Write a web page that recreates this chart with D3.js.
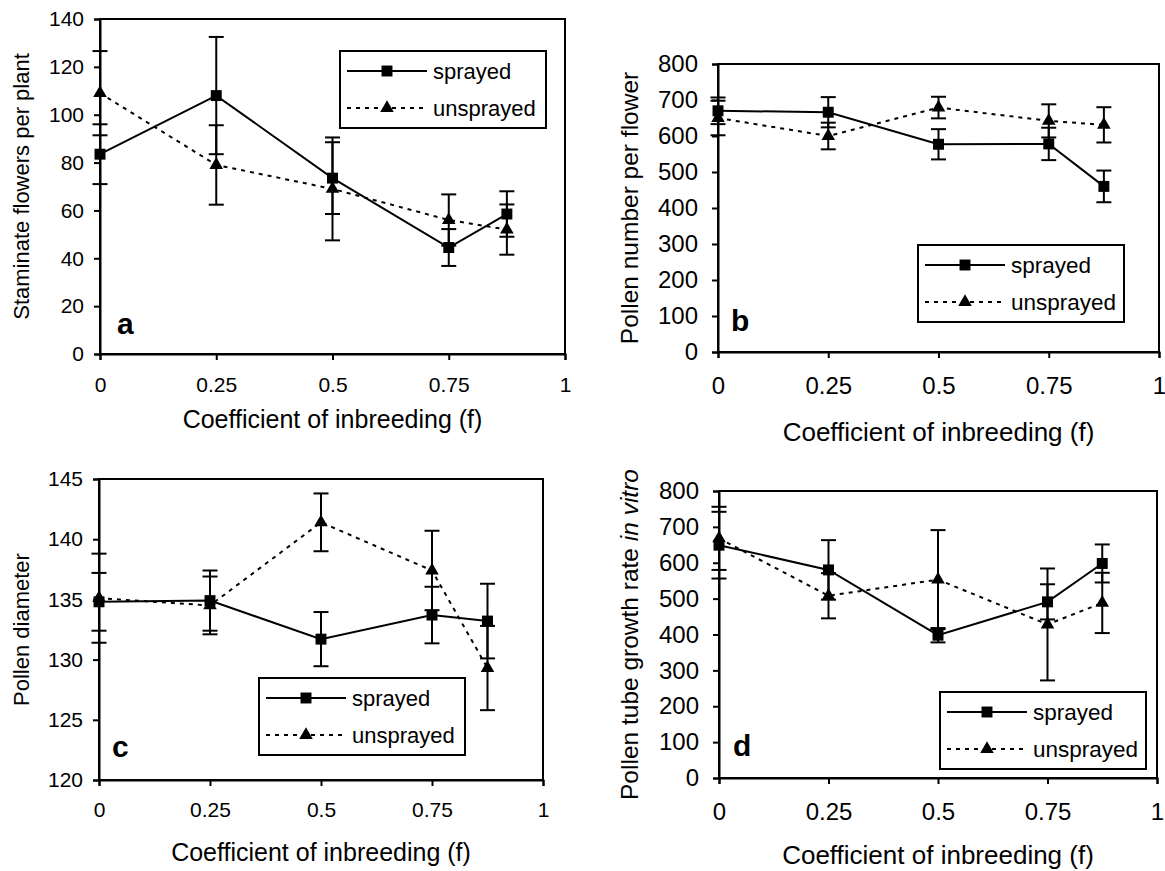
<!DOCTYPE html>
<html>
<head>
<meta charset="utf-8">
<script src="https://cdn.jsdelivr.net/npm/d3@7"></script>
<style>
  body { margin: 0; background: #fff; }
  svg { font-family: "Liberation Sans", Arial, sans-serif; }
</style>
</head>
<body>
<div id="chart"></div>
<script>
// x values shared by all four panels
var inbreeding = [0, 0.25, 0.5, 0.75, 0.875];
var xTicks = [0, 0.25, 0.5, 0.75, 1];

// a: staminate flowers per plant
var flowersSprayed = [83.5, 108, 73.5, 44.5, 58.5];
var flowersSprayedErr = [12.5, 24.5, 15, 7.7, 9.5];
var flowersUnsprayed = [109, 79, 69, 56, 52];
var flowersUnsprayedErr = [17.6, 16.6, 21.5, 10.7, 10.5];
var flowerTicks = [0, 20, 40, 60, 80, 100, 120, 140];

// b: pollen number per flower
var pollenSprayed = [670, 666, 577, 578, 460];
var pollenSprayedErr = [37, 42, 42, 45, 44];
var pollenUnsprayed = [650, 600, 679, 642, 631];
var pollenUnsprayedErr = [48, 37, 30, 46, 49];
var pollenTicks = [0, 100, 200, 300, 400, 500, 600, 700, 800];

// c: pollen diameter
var diameterSprayed = [134.8, 134.9, 131.7, 133.7, 133.2];
var diameterSprayedErr = [2.4, 2.5, 2.25, 2.35, 3.1];
var diameterUnsprayed = [135.1, 134.5, 141.4, 137.4, 129.3];
var diameterUnsprayedErr = [3.7, 2.4, 2.4, 3.3, 3.5];
var diameterTicks = [120, 125, 130, 135, 140, 145];

// d: pollen tube growth rate in vitro
var tubeSprayed = [649, 580, 398, 491, 598];
var tubeSprayedErr = [93, 83, 20, 49, 53];
var tubeUnsprayed = [668, 508, 553, 428, 488];
var tubeUnsprayedErr = [88, 63, 138, 156, 84];
var tubeTicks = [0, 100, 200, 300, 400, 500, 600, 700, 800];

var seriesNames = ["sprayed", "unsprayed"];

var svg = d3.select("#chart").append("svg")
    .attr("width", 1165)
    .attr("height", 871);

// panel layout (pixel boxes of each plot area)
var panels = [
  {letter: "a", left: 100, right: 565, top: 19, bottom: 354,
   yDomain: [0, 140], yTicks: flowerTicks,
   s: flowersSprayed, sErr: flowersSprayedErr, u: flowersUnsprayed, uErr: flowersUnsprayedErr,
   yTitle: ["Staminate flowers per plant"], yTitleX: 21,
   tickFont: 21, legFont: 22, titleFont: 25, yTitleFont: 22, xPad: 17, yPad: 10, xTitleY: 428,
   legX: 340, legY: 51, letX: 117, letY: 334},
  {letter: "b", left: 718, right: 1159, top: 64, bottom: 352,
   yDomain: [0, 800], yTicks: pollenTicks,
   s: pollenSprayed, sErr: pollenSprayedErr, u: pollenUnsprayed, uErr: pollenUnsprayedErr,
   yTitle: ["Pollen number per flower"], yTitleX: 629,
   tickFont: 24, legFont: 22.5, titleFont: 26, yTitleFont: 24.5, xPad: 19, yPad: 14, xTitleY: 441,
   legX: 918, legY: 245, letX: 731, letY: 331},
  {letter: "c", left: 99, right: 543, top: 479, bottom: 780,
   yDomain: [120, 145], yTicks: diameterTicks,
   s: diameterSprayed, sErr: diameterSprayedErr, u: diameterUnsprayed, uErr: diameterUnsprayedErr,
   yTitle: ["Pollen diameter"], yTitleX: 21,
   tickFont: 21, legFont: 22, titleFont: 25, yTitleFont: 22, xPad: 16, yPad: 10, xTitleY: 861,
   legX: 259, legY: 678, letX: 112, letY: 757},
  {letter: "d", left: 719, right: 1157, top: 491, bottom: 778,
   yDomain: [0, 800], yTicks: tubeTicks,
   s: tubeSprayed, sErr: tubeSprayedErr, u: tubeUnsprayed, uErr: tubeUnsprayedErr,
   yTitle: ["Pollen tube growth rate ", "in vitro"], yTitleX: 629,
   tickFont: 24, legFont: 22.5, titleFont: 26, yTitleFont: 24.5, xPad: 19, yPad: 14, xTitleY: 864,
   legX: 940, legY: 692, letX: 733, letY: 756}
];

var square = d3.symbol().type(d3.symbolSquare).size(120);
var triangle = d3.symbol().type(d3.symbolTriangle).size(80);

panels.forEach(function(p) {
  var g = svg.append("g");

  var x = d3.scaleLinear().domain([0, 1]).range([p.left, p.right]);
  var y = d3.scaleLinear().domain(p.yDomain).range([p.bottom, p.top]);

  // plot frame
  g.append("rect")
    .attr("x", p.left).attr("y", p.top)
    .attr("width", p.right - p.left).attr("height", p.bottom - p.top)
    .attr("fill", "none").attr("stroke", "#000").attr("stroke-width", 2);

  // axes
  var xAxis = g.append("g")
    .attr("transform", "translate(0," + p.bottom + ")")
    .call(d3.axisBottom(x).tickValues(xTicks).tickSize(6).tickPadding(p.xPad)
      .tickFormat(function(d) { return String(d); }));
  var yAxis = g.append("g")
    .attr("transform", "translate(" + p.left + ",0)")
    .call(d3.axisLeft(y).tickValues(p.yTicks).tickSize(6).tickPadding(p.yPad)
      .tickFormat(d3.format("d")));

  [xAxis, yAxis].forEach(function(ax) {
    ax.select(".domain").attr("stroke-width", 2);
    ax.selectAll(".tick line").attr("stroke-width", 2);
    ax.selectAll("text")
      .attr("font-family", "Liberation Sans, Arial, sans-serif")
      .attr("font-size", p.tickFont)
      .attr("fill", "#000");
  });

  // axis titles
  g.append("text")
    .attr("x", (p.left + p.right) / 2).attr("y", p.xTitleY)
    .attr("text-anchor", "middle")
    .attr("font-size", p.titleFont)
    .text("Coefficient of inbreeding (f)");

  var yt = g.append("text")
    .attr("transform", "translate(" + p.yTitleX + "," + ((p.top + p.bottom) / 2) + ") rotate(-90)")
    .attr("text-anchor", "middle")
    .attr("dy", "0.35em")
    .attr("font-size", p.yTitleFont);
  p.yTitle.forEach(function(t, i) {
    yt.append("tspan").attr("font-style", i === 1 ? "italic" : "normal").text(t);
  });

  // lines
  var line = d3.line()
    .x(function(d, i) { return x(inbreeding[i]); })
    .y(function(d) { return y(d); });

  g.append("path").datum(p.u)
    .attr("d", line).attr("fill", "none")
    .attr("stroke", "#000").attr("stroke-width", 2)
    .attr("stroke-dasharray", "4,5");
  g.append("path").datum(p.s)
    .attr("d", line).attr("fill", "none")
    .attr("stroke", "#000").attr("stroke-width", 2);

  // error bars
  function errorBars(vals, errs) {
    var eb = g.append("g").attr("stroke", "#000").attr("stroke-width", 2);
    vals.forEach(function(v, i) {
      var cx = x(inbreeding[i]);
      eb.append("line")
        .attr("x1", cx).attr("x2", cx)
        .attr("y1", y(v - errs[i])).attr("y2", y(v + errs[i]));
      [v - errs[i], v + errs[i]].forEach(function(e) {
        eb.append("line")
          .attr("x1", cx - 7.5).attr("x2", cx + 7.5)
          .attr("y1", y(e)).attr("y2", y(e));
      });
    });
  }
  errorBars(p.u, p.uErr);
  errorBars(p.s, p.sErr);

  // markers
  g.selectAll(".tri").data(p.u).enter().append("path")
    .attr("d", triangle)
    .attr("transform", function(d, i) { return "translate(" + x(inbreeding[i]) + "," + y(d) + ")"; })
    .attr("fill", "#000");
  g.selectAll(".sq").data(p.s).enter().append("path")
    .attr("d", square)
    .attr("transform", function(d, i) { return "translate(" + x(inbreeding[i]) + "," + y(d) + ")"; })
    .attr("fill", "#000");

  // legend
  var leg = g.append("g").attr("transform", "translate(" + p.legX + "," + p.legY + ")");
  leg.append("rect")
    .attr("width", 206).attr("height", 77)
    .attr("fill", "#fff").attr("stroke", "#000").attr("stroke-width", 2);
  seriesNames.forEach(function(name, i) {
    var ry = i === 0 ? 20 : 57;
    leg.append("line")
      .attr("x1", 7).attr("x2", 87).attr("y1", ry).attr("y2", ry)
      .attr("stroke", "#000").attr("stroke-width", 2)
      .attr("stroke-dasharray", i === 0 ? null : "4,5");
    leg.append("path")
      .attr("d", i === 0 ? square : triangle)
      .attr("transform", "translate(47," + ry + ")")
      .attr("fill", "#000");
    leg.append("text")
      .attr("x", 93).attr("y", ry).attr("dy", "0.35em")
      .attr("font-size", p.legFont)
      .text(name);
  });

  // panel letter
  g.append("text")
    .attr("x", p.letX).attr("y", p.letY)
    .attr("font-size", 30).attr("font-weight", "bold")
    .text(p.letter);
});
</script>
</body>
</html>
